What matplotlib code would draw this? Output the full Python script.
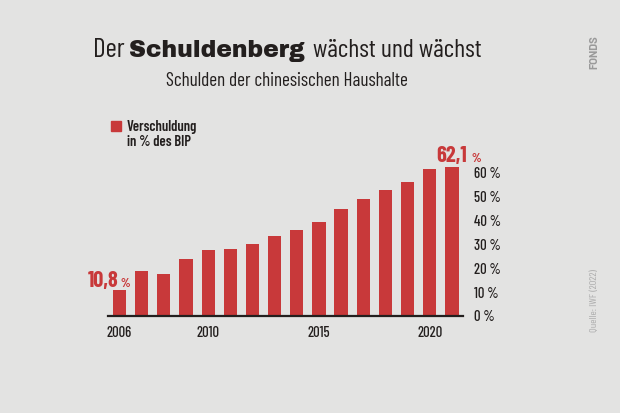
import matplotlib
matplotlib.use("Agg")
import matplotlib.pyplot as plt

# Verschuldung der chinesischen Haushalte in % des BIP
years = list(range(2006, 2022))
debt = [10.8, 18.6, 17.7, 23.6, 27.7, 28.1, 29.9, 33.4, 35.7, 39.2,
        44.8, 49.0, 52.4, 55.8, 61.3, 62.1]
x_ticks = [2006, 2010, 2015, 2020]
y_ticks = [0, 10, 20, 30, 40, 50, 60]

bg = "#e3e3e2"
red = "#c8393a"
dark = "#231f1e"
narrow = "Barlow Condensed"

fig = plt.figure(figsize=(6.2, 4.13), dpi=100, facecolor=bg)
ax = fig.add_axes([0.1742, 0.2349, 0.5726, 0.377])
ax.set_facecolor(bg)

ax.bar(years, debt, width=0.6, color=red, zorder=2)
ax.set_xlim(2005.48, 2021.5)
ax.set_ylim(0, 65)

for s in ["left", "right", "top"]:
    ax.spines[s].set_visible(False)
ax.spines["bottom"].set_color(dark)
ax.spines["bottom"].set_linewidth(1.6)
ax.spines["bottom"].set_zorder(3)

ax.set_xticks(x_ticks)
ax.set_xticklabels([str(y) for y in x_ticks], fontfamily=narrow, fontweight=500,
                   fontsize=10.5, color=dark)
ax.tick_params(axis="x", length=0, pad=7)
ax.yaxis.tick_right()
ax.set_yticks(y_ticks)
ax.set_yticklabels([f"{v} %" for v in y_ticks], fontfamily=narrow, fontweight=500,
                   fontsize=10.5, color=dark)
ax.tick_params(axis="y", length=0, pad=8)

# Werte am ersten und letzten Balken
first, last = debt[0], debt[-1]
ax.annotate(f"{first:.1f}".replace(".", ","), (years[0], first), xytext=(-1, 2.4),
            textcoords="offset points", ha="right", va="baseline",
            fontfamily=narrow, fontweight="bold", fontsize=16, color=red)
ax.annotate("%", (years[0], first), xytext=(1, 2.4), textcoords="offset points",
            ha="left", va="baseline", fontfamily=narrow, fontweight="bold",
            fontsize=9, color=red)
ax.annotate(f"{last:.1f}".replace(".", ","), (years[-1], last), xytext=(10.6, 3.6),
            textcoords="offset points", ha="right", va="baseline",
            fontfamily=narrow, fontweight="bold", fontsize=16, color=red, annotation_clip=False)
ax.annotate("%", (years[-1], last), xytext=(14.2, 3.6), textcoords="offset points",
            ha="left", va="baseline", fontfamily=narrow, fontweight="bold",
            fontsize=9, color=red, annotation_clip=False)

# Titel
fig.text(93 / 620, 0.8627, "Der", fontfamily=narrow, fontsize=19.5, color=dark, va="baseline")
fig.text(129 / 620, 0.8627, "Schuldenberg", fontfamily="Archivo Black",
         fontsize=16.9, color=dark, va="baseline")
fig.text(313 / 620, 0.8627, "wächst und wächst", fontfamily=narrow, fontsize=18.6,
         color=dark, va="baseline")
fig.text(287 / 620, 1 - 85.7 / 413, "Schulden der chinesischen Haushalte",
         fontfamily=narrow, fontsize=13.75, color=dark, ha="center", va="baseline")

# Legende
fig.patches.append(plt.Rectangle((111 / 620, 1 - 131 / 413), 10 / 620, 10 / 413,
                                 transform=fig.transFigure, color=red, figure=fig))
fig.text(127 / 620, 1 - 131 / 413, "Verschuldung", fontfamily=narrow, fontweight=600,
         fontsize=10.5, color=dark, va="baseline")
fig.text(127 / 620, 1 - 146 / 413, "in % des BIP", fontfamily=narrow, fontweight=600,
         fontsize=10.5, color=dark, va="baseline")

# Logo und Quelle
fig.text(594 / 620, 1 - 52 / 413, "FONDS", rotation=90, fontfamily="Barlow",
         fontweight="bold", fontsize=8, color="#9a9a9a", ha="center", va="center")
fig.text(595 / 620, 1 - 301 / 413, "Quelle: IWF (2022)", rotation=90, fontfamily=narrow,
         fontsize=7.5, color="#adadad", ha="center", va="center")

fig.savefig("out.png", dpi=100, facecolor=bg)
